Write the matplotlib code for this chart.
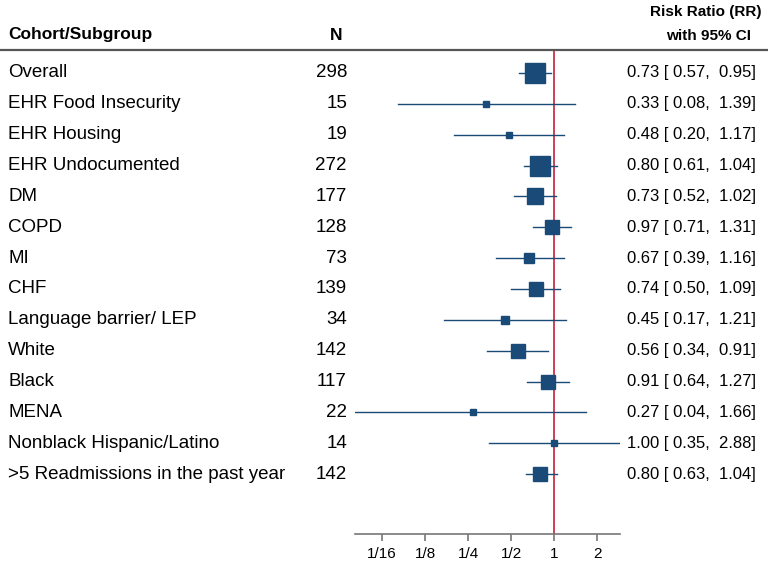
import numpy as np
import matplotlib
matplotlib.use('Agg')
import matplotlib.pyplot as plt
from matplotlib.lines import Line2D
from matplotlib.transforms import blended_transform_factory

####################### DATA #######################
subgroups = ['Overall', 'EHR Food Insecurity', 'EHR Housing', 'EHR Undocumented',
             'DM', 'COPD', 'MI', 'CHF', 'Language barrier/ LEP', 'White', 'Black',
             'MENA', 'Nonblack Hispanic/Latino', '>5 Readmissions in the past year']
n_obs = [298, 15, 19, 272, 177, 128, 73, 139, 34, 142, 117, 22, 14, 142]
rr = [0.73, 0.33, 0.48, 0.80, 0.73, 0.97, 0.67, 0.74, 0.45, 0.56, 0.91, 0.27, 1.00, 0.80]
ci_low = [0.57, 0.08, 0.20, 0.61, 0.52, 0.71, 0.39, 0.50, 0.17, 0.34, 0.64, 0.04, 0.35, 0.63]
ci_high = [0.95, 1.39, 1.17, 1.04, 1.02, 1.31, 1.16, 1.09, 1.21, 0.91, 1.27, 1.66, 2.88, 1.04]
tick_vals = [1/16, 1/8, 1/4, 1/2, 1, 2]
tick_labels = ['1/16', '1/8', '1/4', '1/2', '1', '2']

plt.rcParams['font.family'] = ['Liberation Sans', 'DejaVu Sans']

W, H = 768, 584
fig = plt.figure(figsize=(W / 100, H / 100), dpi=100)

# forest axes placed in pixel terms
x0, x1 = 354.5, 620.0
y_top, y_axis = 50, 534
ax = fig.add_axes([x0 / W, (H - y_axis) / H, (x1 - x0) / W, (y_axis - y_top) / H])

navy = '#1a4a78'
rows = np.arange(1, len(subgroups) + 1)
for i, y in enumerate(rows):
    ax.plot([ci_low[i], ci_high[i]], [y, y], color=navy, lw=1.0, zorder=2)
    # marker grows with subgroup size
    size_px = 1.95 + 1.05 * np.sqrt(n_obs[i])
    ax.plot(rr[i], y, marker='s', ms=size_px * 0.72, color=navy, mec=navy, zorder=3)

ax.axvline(1, color='#c8324a', lw=1.3, zorder=1)

ax.set_xscale('log', base=2)
ax.set_xlim(min(ci_low), max(ci_high))
ax.set_ylim(15.94, 0.255)
ax.set_xticks(tick_vals)
ax.set_xticklabels(tick_labels, fontsize=11)
ax.minorticks_off()
ax.set_yticks([])
for s in ['top', 'left', 'right']:
    ax.spines[s].set_visible(False)
ax.spines['bottom'].set_color('#777777')
ax.spines['bottom'].set_linewidth(1.2)
ax.tick_params(axis='x', color='#777777', length=5, width=1.2, pad=4)

# text columns
tf = blended_transform_factory(fig.transFigure, ax.transData)
for i, y in enumerate(rows):
    ax.text(8 / W, y, subgroups[i], transform=tf, fontsize=13.5, va='center', ha='left')
    ax.text(347 / W, y, str(n_obs[i]), transform=tf, fontsize=13.5, va='center', ha='right')
    ax.text(627 / W, y, '%.2f [ %.2f,  %.2f]' % (rr[i], ci_low[i], ci_high[i]),
            transform=tf, fontsize=12, va='center', ha='left')

# header
fig.text(8 / W, 1 - 35 / H, 'Cohort/Subgroup', fontsize=12.5, fontweight='bold', va='center', ha='left')
fig.text(336 / W, 1 - 35 / H, 'N', fontsize=12.5, fontweight='bold', va='center', ha='center')
fig.text(706 / W, 1 - 12 / H, 'Risk Ratio (RR)', fontsize=11, fontweight='bold', va='center', ha='center')
fig.text(709 / W, 1 - 36 / H, 'with 95% CI', fontsize=11, fontweight='bold', va='center', ha='center')
fig.add_artist(Line2D([0, 1], [1 - 50 / H, 1 - 50 / H], transform=fig.transFigure,
                      color='#555555', lw=1.6))

fig.savefig('out.png', dpi=100)
